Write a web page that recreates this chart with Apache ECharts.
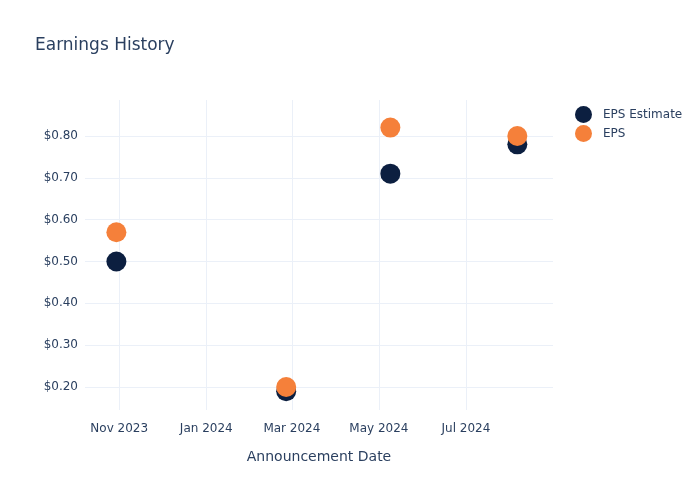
<!DOCTYPE html>
<html><head><meta charset="utf-8">
<script src="https://cdn.jsdelivr.net/npm/echarts@6/dist/echarts.min.js"></script>
<style>html,body{margin:0;padding:0;background:#fff}#c{width:700px;height:500px}</style>
</head><body><div id="c"></div>
<script>
const dates = ['2023-10-30', '2024-02-26', '2024-05-09', '2024-08-06'];
const epsEstimate = [0.50, 0.19, 0.71, 0.78];
const eps = [0.57, 0.20, 0.82, 0.80];
const xTicks = ['2023-11-01', '2024-01-01', '2024-03-01', '2024-05-01', '2024-07-01'];
const yTicks = [0.2, 0.3, 0.4, 0.5, 0.6, 0.7, 0.8];
const months = ['Jan','Feb','Mar','Apr','May','Jun','Jul','Aug','Sep','Oct','Nov','Dec'];
const ts = s => { const [y,m,d] = s.split('-').map(Number); return Date.UTC(y, m-1, d); };
const font = 'DejaVu Sans, sans-serif';
const chart = echarts.init(document.getElementById('c'), null, {renderer: 'canvas'});
chart.setOption({
  animation: false,
  title: {text: 'Earnings History', left: 30, top: 32, textStyle: {fontFamily: font, fontSize: 17, fontWeight: 'normal', color: '#2a3f5f'}},
  legend: {
    orient: 'vertical', left: 570, top: 101, itemWidth: 17, itemHeight: 17, itemGap: 2, icon: 'circle',
    textStyle: {fontFamily: font, fontSize: 12, color: '#2a3f5f', padding: [0, 0, 0, 6]},
    data: ['EPS Estimate', 'EPS']
  },
  grid: {left: 85, right: 147, top: 100, bottom: 90},
  xAxis: {
    type: 'value', min: ts('2023-10-08'), max: ts('2024-08-31'),
    name: 'Announcement Date', nameLocation: 'middle', nameGap: 40,
    nameTextStyle: {fontFamily: font, fontSize: 14, color: '#2a3f5f'},
    axisLine: {show: false}, axisTick: {show: false, customValues: xTicks.map(ts)},
    axisLabel: {customValues: xTicks.map(ts), fontFamily: font, fontSize: 12, color: '#2a3f5f', margin: 13,
      formatter: v => { const d = new Date(v); return months[d.getUTCMonth()] + ' ' + d.getUTCFullYear(); }},
    splitLine: {show: true, lineStyle: {color: '#ebf0f8', width: 1}}
  },
  yAxis: {
    type: 'value', min: 0.145, max: 0.886,
    axisLine: {show: false}, axisTick: {show: false, customValues: yTicks},
    axisLabel: {customValues: yTicks, fontFamily: font, fontSize: 12, color: '#2a3f5f', margin: 7,
      formatter: v => '$' + v.toFixed(2)},
    splitLine: {show: true, lineStyle: {color: '#ebf0f8', width: 1}}
  },
  series: [
    {name: 'EPS Estimate', type: 'scatter', symbolSize: 20, itemStyle: {color: '#0c1f40', opacity: 1},
      data: dates.map((d, i) => [ts(d), epsEstimate[i]])},
    {name: 'EPS', type: 'scatter', symbolSize: 20, itemStyle: {color: '#f5803a', opacity: 1},
      data: dates.map((d, i) => [ts(d), eps[i]])}
  ]
});
</script></body></html>
